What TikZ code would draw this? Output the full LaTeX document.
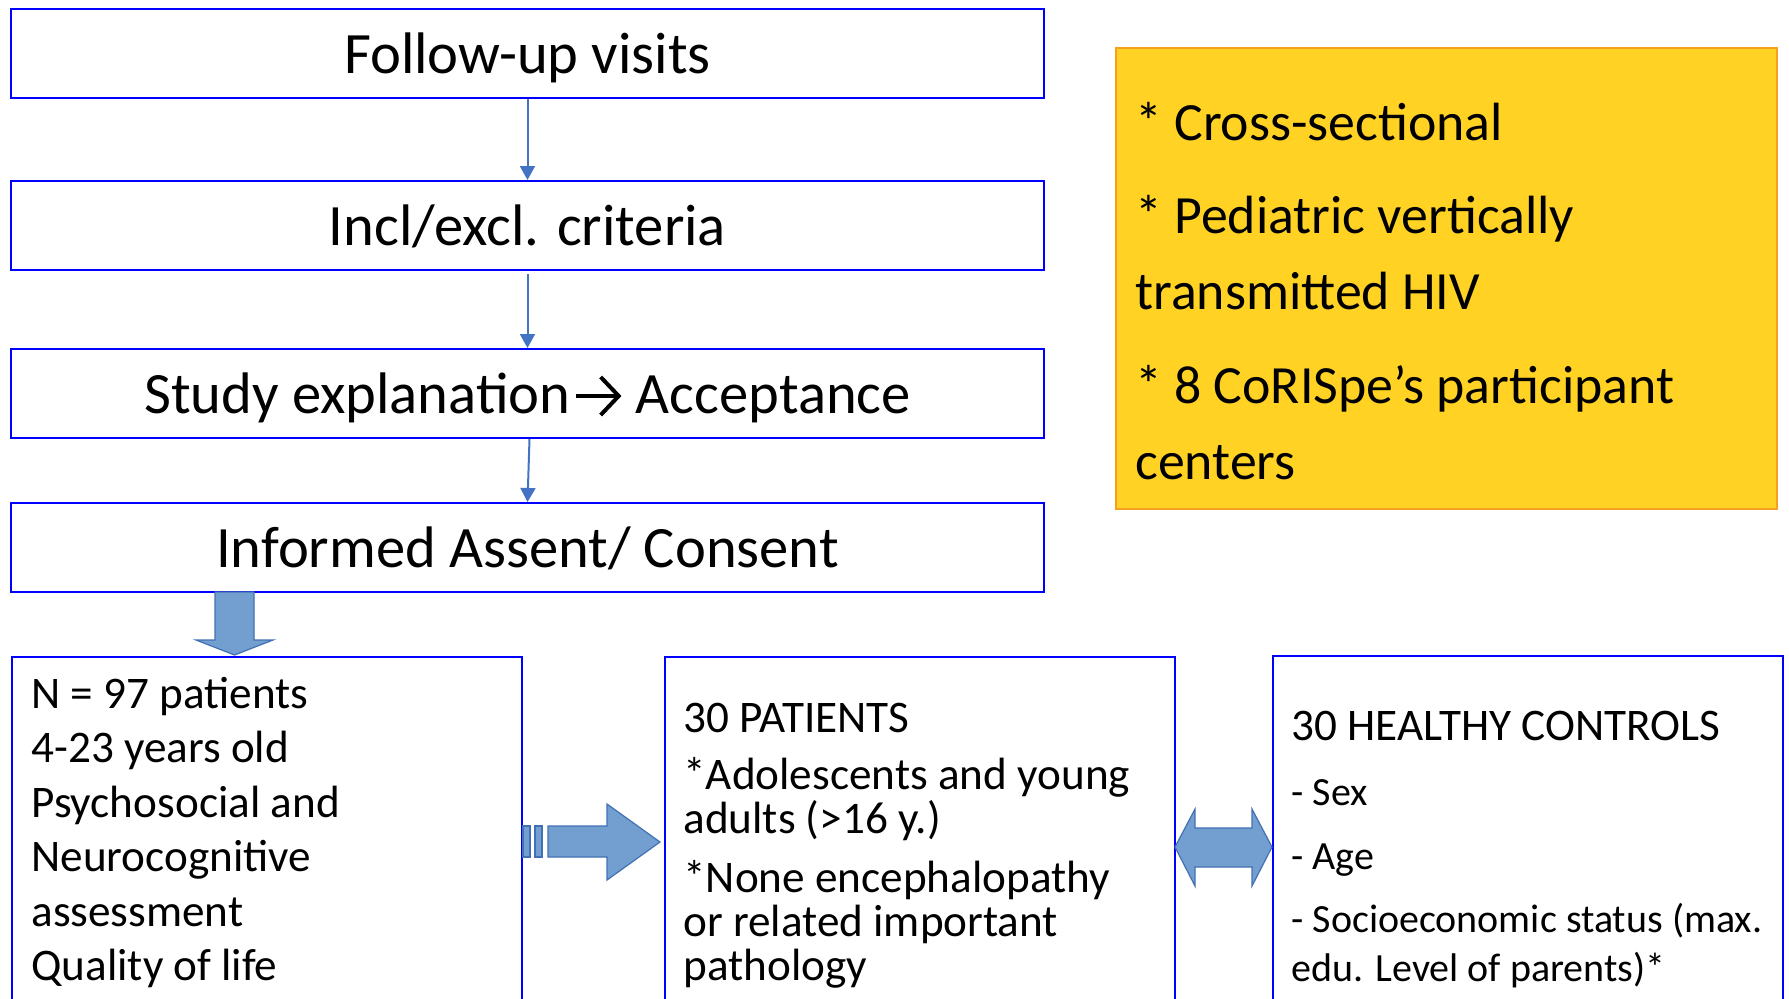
\documentclass[tikz,border=0pt]{standalone}
\usepackage{fontspec}
\setmainfont{Carlito}
\usetikzlibrary{arrows.meta}
\definecolor{boxblue}{RGB}{0,0,255}
\definecolor{linkblue}{RGB}{68,114,196}
\definecolor{arrowfill}{RGB}{114,159,207}
\definecolor{arrowedge}{RGB}{65,113,180}
\definecolor{notefill}{RGB}{255,210,35}
\definecolor{noteedge}{RGB}{245,160,30}
\newcommand{\textarrow}{\kern1.5pt\tikz[x=1pt,y=1pt,baseline=0pt]{%
  \draw[line width=2pt] (0,8.5) -- (21,8.5);
  \draw[line width=2pt, line join=miter] (12.5,18) -- (21.5,8.5) -- (12.5,-1);}\kern1pt}
\begin{document}
\begin{tikzpicture}[x=0.5pt,y=-0.5pt,
 flowbox/.style={draw=boxblue, line width=1pt, fill=white, rectangle, inner sep=0pt,
   minimum width=516.5pt, minimum height=44.5pt, font=\fontsize{29.3}{35}\selectfont,
   text height=21pt, text depth=1.5pt},
 panel/.style={draw=boxblue, line width=1pt, rectangle, inner sep=0pt,
   minimum width=255pt, minimum height=182pt, anchor=north west},
 link/.style={draw=linkblue, line width=1pt, -{Triangle[length=7pt,width=7.5pt]}},
 blockarrow/.style={fill=arrowfill, draw=arrowedge, line width=0.6pt, line join=miter},
 txt/.style={anchor=base west, inner sep=0pt, font=\fontsize{22.6}{27}\selectfont},
 smalltxt/.style={anchor=base west, inner sep=0pt, font=\fontsize{20}{24}\selectfont},
 notetxt/.style={anchor=base west, inner sep=0pt, font=\fontsize{26.9}{32}\selectfont},
]
\clip (0,0) rectangle (1789,998);
\fill[white] (0,0) rectangle (1789,998);

% flow boxes
\node[flowbox] (b1) at (527.5,53.5) {Follow-up visits};
\node[flowbox] (b2) at (527.5,225.5) {Incl/excl. criteria};
\node[flowbox] (b3) at (527.5,393.5) {Study explanation\textarrow{} Acceptance};
\node[flowbox] (b4) at (527.5,547.5) {Informed Assent/ Consent};

\draw[link] (b1.south) -- (b2.north);
\draw[link] ([yshift=-1.5pt]b2.south) -- (b3.north);
\draw[link] ([xshift=1pt]b3.south) -- (b4.north);

% note box
\node[draw=noteedge, fill=notefill, line width=1pt, rectangle, inner sep=0pt,
  minimum width=330.5pt, minimum height=230.5pt, anchor=north west] (note) at (1115,47) {};
\node[notetxt] (n1) at (1135,140) {* Cross-sectional};
\node[notetxt] (n2) at (1135,233) {* Pediatric vertically};
\node[notetxt] (n3) at (1135,309) {transmitted HIV};
\node[notetxt] (n4) at (1135,403) {* 8 CoRISpe’s participant};
\node[notetxt] (n5) at (1135,479) {centers};

% bottom panels
\node[panel] (p1) at (11,656) {};
\node[panel] (p2) at (664,656) {};
\node[panel] (p3) at (1272,655) {};

\node[txt] (a1) at (31,708) {N = 97 patients};
\node[txt] (a2) at (31,762) {4-23 years old};
\node[txt] (a3) at (31,817) {Psychosocial and};
\node[txt] (a4) at (31,871) {Neurocognitive};
\node[txt] (a5) at (31,926) {assessment};
\node[txt] (a6) at (31,980) {Quality of life};

\node[txt] (c1) at (683,732) {30 PATIENTS};
\node[txt] (c2) at (683,789) {*Adolescents and young};
\node[txt] (c3) at (683,833) {adults (>16 y.)};
\node[txt] (c4) at (683,892) {*None encephalopathy};
\node[txt] (c5) at (683,936) {or related important};
\node[txt] (c6) at (683,980) {pathology};

\node[txt] (d1) at (1291,740) {30 HEALTHY CONTROLS};
\node[smalltxt] (d2) at (1291,805) {- Sex};
\node[smalltxt] (d3) at (1291,869) {- Age};
\node[smalltxt] (d4) at (1291,932) {- Socioeconomic status (max.};
\node[smalltxt] (d5) at (1291,981) {edu. Level of parents)*};

% block arrows
\draw[blockarrow] (215,592) -- (254,592) -- (254,640) -- (273,640) -- (234.5,655)
  -- (196,640) -- (215,640) -- cycle;
\draw[blockarrow] (523,826) rectangle (530,857);
\draw[blockarrow] (535,826) rectangle (542,857);
\draw[blockarrow] (548,826) -- (607,826) -- (607,804) -- (660,842) -- (607,880)
  -- (607,857) -- (548,857) -- cycle;
\draw[blockarrow] (1175,847) -- (1195,809) -- (1195,828) -- (1252,828) -- (1252,809)
  -- (1272,847) -- (1252,886) -- (1252,867) -- (1195,867) -- (1195,886) -- cycle;
\end{tikzpicture}
\end{document}
